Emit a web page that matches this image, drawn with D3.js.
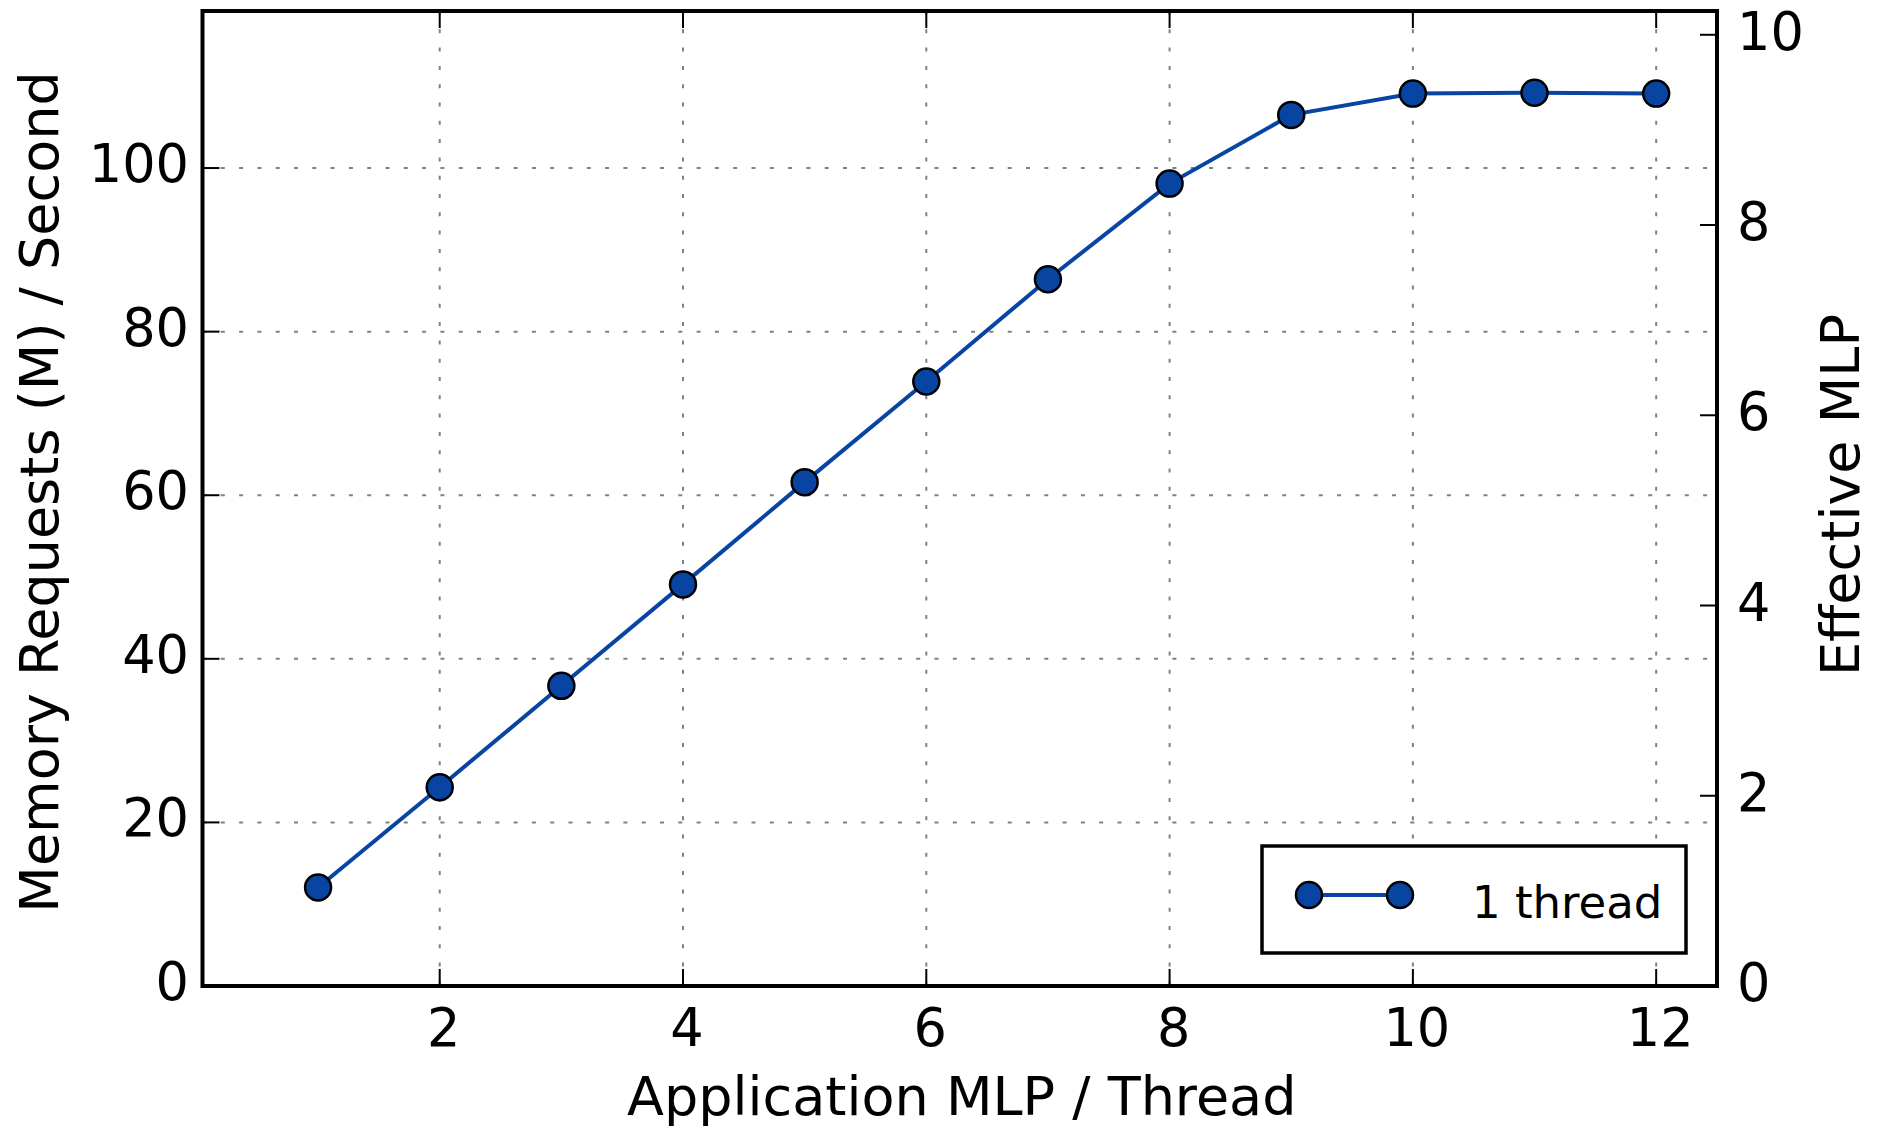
<!DOCTYPE html>
<html>
<head>
<meta charset="utf-8">
<script src="https://cdn.jsdelivr.net/npm/d3@7/dist/d3.min.js"></script>
<style>
  html, body { margin: 0; padding: 0; background: #ffffff; }
  svg { display: block; font-family: "DejaVu Sans", sans-serif; }
</style>
</head>
<body>
<svg id="chart" width="1879" height="1130"></svg>
<script>
// ---- data ----
const mlpPerThread = [1, 2, 3, 4, 5, 6, 7, 8, 9, 10, 11, 12];
const memRequests = [12.05, 24.3, 36.7, 49.1, 61.6, 73.9, 86.4, 98.1, 106.5, 109.1, 109.2, 109.1];
const xTicks = [2, 4, 6, 8, 10, 12];
const yLeftTicks = [0, 20, 40, 60, 80, 100];
const yRightTicks = [0, 2, 4, 6, 8, 10];
const seriesName = "1 thread";
const xLabel = "Application MLP / Thread";
const yLeftLabel = "Memory Requests (M) / Second";
const yRightLabel = "Effective MLP";

// ---- layout ----
const L = 202.5, R = 1717, T = 11, B = 986;
const blue = "#0845a3";
const tickFont = 52.5, labelFont = 54;

const svg = d3.select("#chart");
const x = d3.scaleLinear().domain([0.05, 12.5]).range([L, R]);
const yL = d3.scaleLinear().domain([0, 119.2]).range([B, T]);
const yR = d3.scaleLinear().domain([0, 10.25]).range([B, T]);

// grid
const grid = svg.append("g").attr("stroke", "#808080").attr("stroke-width", 2)
  .attr("stroke-dasharray", "4,14.3");
grid.selectAll("line.v").data(xTicks).enter().append("line")
  .attr("x1", d => x(d)).attr("x2", d => x(d)).attr("y1", T).attr("y2", B);
grid.selectAll("line.h").data(yLeftTicks.filter(d => d > 0)).enter().append("line")
  .attr("y1", d => yL(d)).attr("y2", d => yL(d)).attr("x1", L).attr("x2", R);

// ticks (inside)
const tk = svg.append("g").attr("stroke", "#000").attr("stroke-width", 2);
const tl = 17;
xTicks.forEach(d => {
  tk.append("line").attr("x1", x(d)).attr("x2", x(d)).attr("y1", B).attr("y2", B - tl);
  tk.append("line").attr("x1", x(d)).attr("x2", x(d)).attr("y1", T).attr("y2", T + tl);
});
yLeftTicks.forEach(d => {
  tk.append("line").attr("x1", L).attr("x2", L + tl).attr("y1", yL(d)).attr("y2", yL(d));
});
yRightTicks.forEach(d => {
  tk.append("line").attr("x1", R).attr("x2", R - tl).attr("y1", yR(d)).attr("y2", yR(d));
});

// tick labels
svg.append("g").selectAll("text").data(xTicks).enter().append("text")
  .attr("x", d => x(d) + 4).attr("y", 1046).attr("text-anchor", "middle")
  .attr("font-size", tickFont).text(d => d);
svg.append("g").selectAll("text").data(yLeftTicks).enter().append("text")
  .attr("x", 189).attr("y", d => yL(d) + 14).attr("text-anchor", "end")
  .attr("font-size", tickFont).text(d => d);
svg.append("g").selectAll("text").data(yRightTicks).enter().append("text")
  .attr("x", 1737).attr("y", d => yR(d) + 15).attr("text-anchor", "start")
  .attr("font-size", tickFont).text(d => d);

// axis labels
svg.append("text").attr("x", (L + R) / 2 + 2).attr("y", 1115).attr("text-anchor", "middle")
  .attr("font-size", labelFont).text(xLabel);
svg.append("text").attr("transform", `translate(58,492) rotate(-90)`)
  .attr("text-anchor", "middle").attr("font-size", labelFont).text(yLeftLabel);
svg.append("text").attr("transform", `translate(1859,495) rotate(-90)`)
  .attr("text-anchor", "middle").attr("font-size", labelFont).text(yRightLabel);

// series
const pts = mlpPerThread.map((d, i) => [d, memRequests[i]]);
svg.append("path").datum(pts)
  .attr("d", d3.line().x(d => x(d[0])).y(d => yL(d[1])))
  .attr("fill", "none").attr("stroke", blue).attr("stroke-width", 4);
svg.append("g").selectAll("circle").data(pts).enter().append("circle")
  .attr("cx", d => x(d[0])).attr("cy", d => yL(d[1])).attr("r", 13)
  .attr("fill", blue).attr("stroke", "#000").attr("stroke-width", 2.5);

// frame
svg.append("rect").attr("x", L).attr("y", T).attr("width", R - L).attr("height", B - T)
  .attr("fill", "none").attr("stroke", "#000").attr("stroke-width", 4);

// legend
const lg = svg.append("g");
lg.append("rect").attr("x", 1262).attr("y", 846).attr("width", 424).attr("height", 107)
  .attr("fill", "#fff").attr("stroke", "#000").attr("stroke-width", 3.5);
lg.append("line").attr("x1", 1309).attr("x2", 1400).attr("y1", 895).attr("y2", 895)
  .attr("stroke", blue).attr("stroke-width", 4);
[1309, 1400].forEach(cx => {
  lg.append("circle").attr("cx", cx).attr("cy", 895).attr("r", 13)
    .attr("fill", blue).attr("stroke", "#000").attr("stroke-width", 2.5);
});
lg.append("text").attr("x", 1472).attr("y", 918).attr("font-size", 45).text(seriesName);
</script>
</body>
</html>
